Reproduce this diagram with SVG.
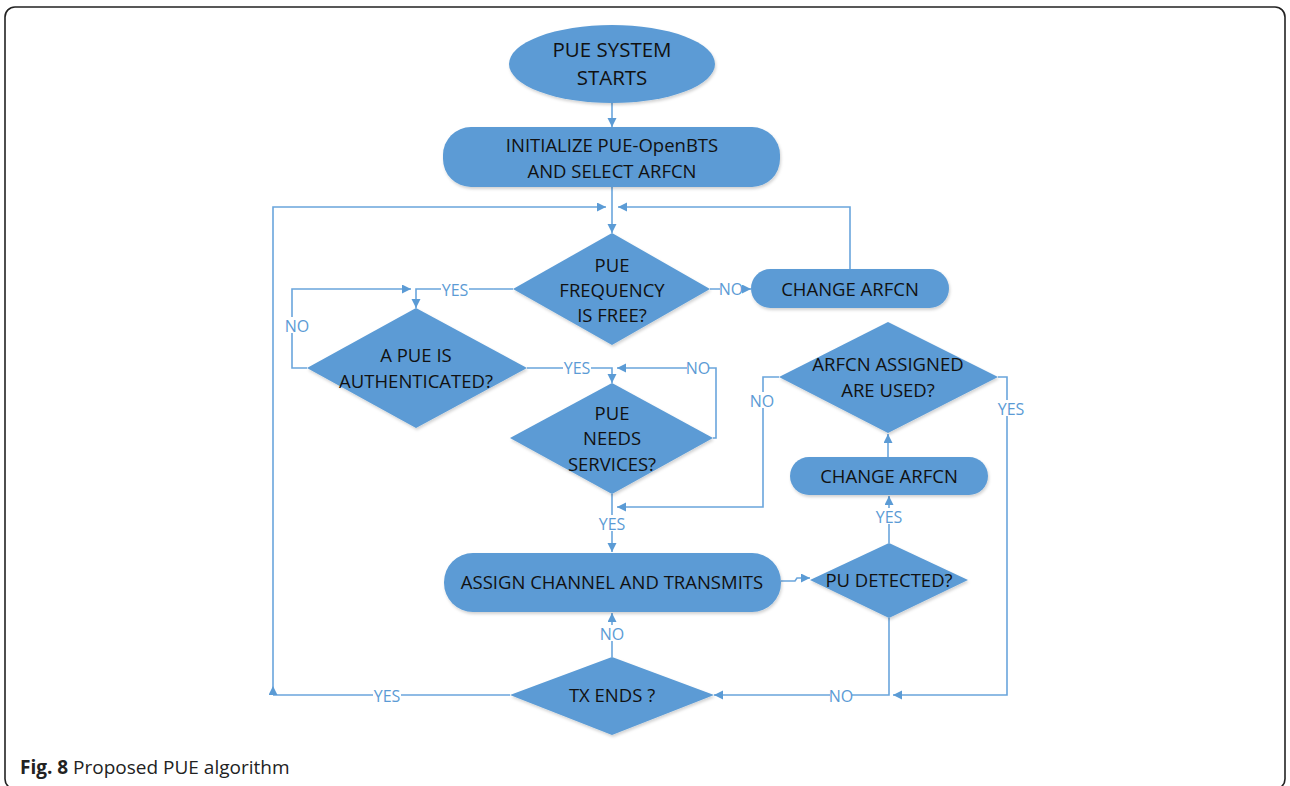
<svg xmlns="http://www.w3.org/2000/svg" width="1290" height="786" viewBox="0 0 1290 786">
  <defs>
    <marker id="arrow" markerUnits="userSpaceOnUse" markerWidth="10" markerHeight="10" refX="9" refY="4.5" orient="auto">
      <path d="M0,0 L9,4.5 L0,9 z" fill="#5b9bd5"/>
    </marker>
    <marker id="arrowStart" markerUnits="userSpaceOnUse" markerWidth="10" markerHeight="10" refX="0" refY="4.5" orient="auto">
      <path d="M0,0 L9,4.5 L0,9 z" fill="#5b9bd5"/>
    </marker>
    <filter id="shadow" x="-10%" y="-10%" width="120%" height="130%">
      <feDropShadow dx="1" dy="2" stdDeviation="1.5" flood-color="#000" flood-opacity="0.18"/>
    </filter>
  </defs>
  <style>
    .shape { fill: #5b9bd5; filter: url(#shadow); }
    .txt { font-family: "Open Sans", "Liberation Sans", sans-serif; font-size: 18.5px; fill: #111; text-anchor: middle; }
    .big { font-size: 20.5px; }
    .conn { fill: none; stroke: #6aa5dc; stroke-width: 1.6; }
    .lbl { font-family: "Open Sans", "Liberation Sans", sans-serif; font-size: 16px; fill: #5b9bd5; text-anchor: middle; }
    .bg { fill: #fff; }
    .cap { font-family: "Open Sans", "Liberation Sans", sans-serif; font-size: 19px; fill: #222; }
  </style>

  <rect width="1290" height="786" fill="#fff"/>
  <rect x="5" y="7" width="1280" height="782" rx="10" ry="10" fill="none" stroke="#222" stroke-width="1.6"/>

  <!-- connectors and their YES / NO labels -->
  <g id="connectors">
    <path class="conn" d="M612,103 V127" marker-end="url(#arrow)"/>
    <path class="conn" d="M612,187 V233" marker-end="url(#arrow)"/>
    <path class="conn" d="M510,695 H273"/>
    <path class="conn" d="M273,695 V207 H606" marker-start="url(#arrowStart)" marker-end="url(#arrow)"/>
    <path class="conn" d="M850,269 V207 H618" marker-end="url(#arrow)"/>
    <path class="conn" d="M710,289 H751" marker-end="url(#arrow)"/>
    <path class="conn" d="M513,289 H416 V308" marker-end="url(#arrow)"/>
    <path class="conn" d="M307,368 H292 V289 H411" marker-end="url(#arrow)"/>
    <path class="conn" d="M527,368 H612 V383" marker-end="url(#arrow)"/>
    <path class="conn" d="M713,438 H716 V368 H617" marker-end="url(#arrow)"/>
    <path class="conn" d="M612,494 V552" marker-end="url(#arrow)"/>
    <path class="conn" d="M779,377 H763 V507 H617" marker-end="url(#arrow)"/>
    <path class="conn" d="M998,377 H1007 V695 H893" marker-end="url(#arrow)"/>
    <path class="conn" d="M889,618 V695 H714" marker-end="url(#arrow)"/>
    <path class="conn" d="M889,543 V496" marker-end="url(#arrow)"/>
    <path class="conn" d="M888,457 V434" marker-end="url(#arrow)"/>
    <path class="conn" d="M781,581 H795 L797,578 H810" marker-end="url(#arrow)"/>
    <path class="conn" d="M612,657 V613" marker-end="url(#arrow)"/>

    <rect class="bg" x="441" y="281" width="28" height="16"/>
    <text class="lbl" x="455" y="296">YES</text>
    <rect class="bg" x="286" y="317" width="22" height="16"/>
    <text class="lbl" x="297" y="332">NO</text>
    <rect class="bg" x="720" y="280" width="22" height="16"/>
    <text class="lbl" x="731" y="295">NO</text>
    <rect class="bg" x="563" y="359" width="28" height="16"/>
    <text class="lbl" x="577" y="374">YES</text>
    <rect class="bg" x="687" y="359" width="22" height="16"/>
    <text class="lbl" x="698" y="374">NO</text>
    <rect class="bg" x="751" y="392" width="22" height="16"/>
    <text class="lbl" x="762" y="407">NO</text>
    <rect class="bg" x="997" y="400" width="28" height="16"/>
    <text class="lbl" x="1011" y="415">YES</text>
    <rect class="bg" x="598" y="515" width="28" height="16"/>
    <text class="lbl" x="612" y="530">YES</text>
    <rect class="bg" x="875" y="508" width="28" height="16"/>
    <text class="lbl" x="889" y="523">YES</text>
    <rect class="bg" x="601" y="625" width="22" height="16"/>
    <text class="lbl" x="612" y="640">NO</text>
    <rect class="bg" x="830" y="687" width="22" height="16"/>
    <text class="lbl" x="841" y="702">NO</text>
    <rect class="bg" x="373" y="687" width="28" height="16"/>
    <text class="lbl" x="387" y="702">YES</text>
  </g>

  <g id="start">
    <ellipse class="shape" cx="612" cy="64" rx="103" ry="39"/>
    <text class="txt big" x="612" y="57">PUE SYSTEM</text>
    <text class="txt big" x="612" y="85">STARTS</text>
  </g>

  <g id="init">
    <rect class="shape" x="443" y="127" width="337" height="60" rx="28"/>
    <text class="txt" x="612" y="152">INITIALIZE PUE-OpenBTS</text>
    <text class="txt" x="612" y="178">AND SELECT ARFCN</text>
  </g>

  <g id="freq-free">
    <polygon class="shape" points="612,233 710,289 612,345 513,289"/>
    <text class="txt" x="612" y="272">PUE</text>
    <text class="txt" x="612" y="297">FREQUENCY</text>
    <text class="txt" x="612" y="322">IS FREE?</text>
  </g>

  <g id="change-arfcn-1">
    <rect class="shape" x="751" y="269" width="198" height="39" rx="19.5"/>
    <text class="txt" x="850" y="296">CHANGE ARFCN</text>
  </g>

  <g id="authenticated">
    <polygon class="shape" points="416,308 527,368 416,428 307,368"/>
    <text class="txt" x="416" y="362">A PUE  IS</text>
    <text class="txt" x="416" y="388">AUTHENTICATED?</text>
  </g>

  <g id="needs-services">
    <polygon class="shape" points="612,383 713,438 612,494 510,438"/>
    <text class="txt" x="612" y="420">PUE</text>
    <text class="txt" x="612" y="445">NEEDS</text>
    <text class="txt" x="612" y="471">SERVICES?</text>
  </g>

  <g id="arfcn-used">
    <polygon class="shape" points="888,322 998,377 888,433 779,377"/>
    <text class="txt" x="888" y="371">ARFCN ASSIGNED</text>
    <text class="txt" x="888" y="397">ARE USED?</text>
  </g>

  <g id="change-arfcn-2">
    <rect class="shape" x="790" y="457" width="198" height="38" rx="19"/>
    <text class="txt" x="889" y="483">CHANGE ARFCN</text>
  </g>

  <g id="assign">
    <rect class="shape" x="444" y="553" width="337" height="59" rx="29"/>
    <text class="txt" x="612" y="589">ASSIGN CHANNEL AND TRANSMITS</text>
  </g>

  <g id="pu-detected">
    <polygon class="shape" points="889,543 968,580 889,618 810,580"/>
    <text class="txt" x="889" y="587">PU DETECTED?</text>
  </g>

  <g id="tx-ends">
    <polygon class="shape" points="612,657 714,695 612,735 510,695"/>
    <text class="txt" x="612" y="702">TX ENDS ?</text>
  </g>

  <text class="cap" x="20" y="774"><tspan font-weight="bold">Fig. 8</tspan> Proposed PUE algorithm</text>
</svg>
